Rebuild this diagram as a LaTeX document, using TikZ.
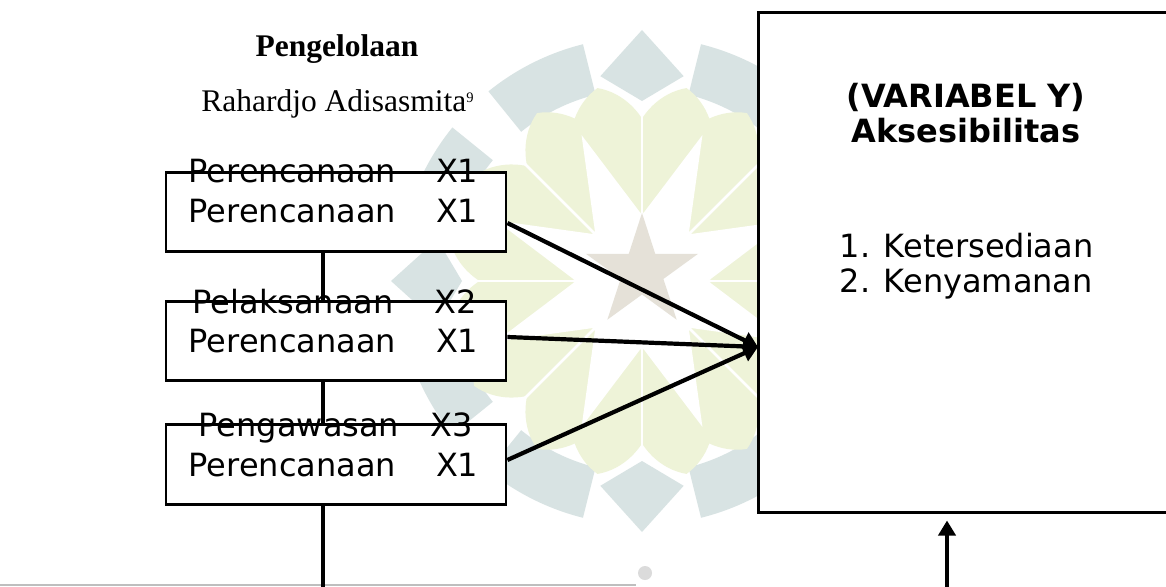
\documentclass[tikz,border=0pt]{standalone}
\usepackage{fontspec}
\setmainfont{Liberation Serif}
\newfontfamily\dvsans{DejaVu Sans}
\usetikzlibrary{arrows.meta,calc}

\definecolor{petalgreen}{RGB}{238,243,216}
\definecolor{ringgrey}{RGB}{216,227,227}
\definecolor{stargrey}{RGB}{229,225,216}
\definecolor{rulegrey}{RGB}{190,190,190}

\tikzset{
  varbox/.style={draw=black, fill=white, line width=2.8pt,
    minimum width=340pt, minimum height=79.5pt, inner sep=0pt},
  ybox/.style={draw=black, fill=white, line width=3pt,
    minimum width=416pt, minimum height=499pt, inner sep=0pt},
  boxtext/.style={font=\dvsans\fontsize{32}{32}\selectfont,
    anchor=base west, inner sep=0pt},
  ytitle/.style={font=\dvsans\bfseries\fontsize{32}{32}\selectfont,
    anchor=base, inner sep=0pt},
  serifhead/.style={font=\bfseries\fontsize{31.5}{31.5}\selectfont,
    anchor=base, inner sep=0pt},
  serifline/.style={font=\fontsize{31.5}{31.5}\selectfont,
    anchor=base, inner sep=0pt},
  link/.style={line width=4pt},
  flow/.style={line width=4.2pt, -{Triangle[length=15pt,width=17pt]}},
  leaf/.style={petalgreen},
}

\begin{document}
\begin{tikzpicture}[x=1pt,y=-1pt]
\clip (0,0) rectangle (1166,586);
\fill[white] (0,0) rectangle (1166,586);

% faint emblem in the background
\begin{scope}[shift={(642,281)}]
  % outer ring: curved segments and kites
  \foreach \q [evaluate=\q as \sa using \q+14,
               evaluate=\q as \sb using \q+39,
               evaluate=\q as \sc using \q+51,
               evaluate=\q as \sd using \q+76] in {0,90,180,270}{
    \fill[ringgrey] (\sa:192) arc[start angle=\sa,end angle=\sb,radius=192]
      -- (\sb:244) arc[start angle=\sb,end angle=\sa,radius=244] -- cycle;
    \fill[ringgrey] (\sc:192) arc[start angle=\sc,end angle=\sd,radius=192]
      -- (\sd:244) arc[start angle=\sd,end angle=\sc,radius=244] -- cycle;
    \fill[ringgrey] (\q:251) -- (\q+11.5:209) -- (\q:180) -- (\q-11.5:209) -- cycle;
  }
  % leaves, two on each side of every main axis
  \foreach \a [evaluate=\a as \la using \a+13,
               evaluate=\a as \lb using \a-13] in {0,45,...,315}{
    \fill[leaf, rotate=\la] (55,0) .. controls (100,62) and (178,48) .. (198,0)
      .. controls (178,-48) and (100,-62) .. (55,0);
    \fill[leaf, rotate=\lb] (55,0) .. controls (100,62) and (178,48) .. (198,0)
      .. controls (178,-48) and (100,-62) .. (55,0);
  }
  \foreach \a in {0,45,...,315}{
    \draw[white, line width=2.5pt] (0,0) -- (\a:178);
  }
  % white eight-pointed star between the leaf pairs
  \fill[white] (22.5:158) \foreach \k in {0,...,7}{ -- (\k*45+45:66) -- (\k*45+67.5:158) } -- cycle;
  % small five-pointed star at the centre
  \begin{scope}[shift={(0,-9)}]
    \fill[stargrey] (270:59) \foreach \k in {0,...,4}{ -- (\k*72+306:22.5) -- (\k*72+342:59) } -- cycle;
  \end{scope}
\end{scope}
\fill[gray!28] (645,573) circle (7);

% thin rule along the lower edge
\coordinate (ruleL) at (0,585);
\coordinate (ruleR) at (636,585);
\draw[rulegrey, line width=1.5pt] (ruleL) -- (ruleR);

% boxes
\node[varbox] (b1) at (336,212) {};
\node[varbox] (b2) at (336,341) {};
\node[varbox] (b3) at (336,464.5) {};
\node[ybox] (Y) at (966,262.5) {};

% vertical chain of the left boxes
\coordinate (foot) at (322.5,592);
\draw[link] ([xshift=-13.5pt]b1.south) -- ([xshift=-13.5pt]b2.north);
\draw[link] ([xshift=-13.5pt]b2.south) -- ([xshift=-13.5pt]b3.north);
\draw[link] ([xshift=-13.5pt]b3.south) -- (foot);

% arrows into variable Y
\coordinate (tip) at (758,347);
\draw[flow] ([yshift=-11pt]b1.east) -- (tip);
\draw[flow] ([yshift=4pt]b2.east) -- (tip);
\draw[flow] ([yshift=4.5pt]b3.east) -- (tip);
\coordinate (upfoot) at (947,592);
\draw[flow, shorten >=7pt] (upfoot) -- (upfoot |- Y.south);

% headings
\node[serifhead] (head) at (337,56.7) {Pengelolaan};
\node[serifline] (author) at (337.5,111.7)
  {Rahardjo Adisasmita\raisebox{9.4pt}{\fontsize{14.5}{14.5}\selectfont 9}};

% box labels
\node[boxtext] (b1top) at (188.6,182.7) {Perencanaan\hspace{40pt}X1};
\node[boxtext] (b1in)  at (188.6,222.7) {Perencanaan\hspace{40pt}X1};
\node[boxtext] (b2top) at (192.6,313)   {Pelaksanaan\hspace{41pt}X2};
\node[boxtext] (b2in)  at (188.6,352.7) {Perencanaan\hspace{40pt}X1};
\node[boxtext] (b3top) at (198.6,436.7) {Pengawasan\hspace{31pt}X3};
\node[boxtext] (b3in)  at (188.6,476.5) {Perencanaan\hspace{40pt}X1};

% variable Y contents
\node[ytitle] (yt1) at (966,107) {(VARIABEL Y)};
\node[ytitle] (yt2) at (966,142) {Aksesibilitas};
\node[boxtext] (yi1) at (839.6,257) {1. Ketersediaan};
\node[boxtext] (yi2) at (839.6,292) {2. Kenyamanan};
\end{tikzpicture}
\end{document}
